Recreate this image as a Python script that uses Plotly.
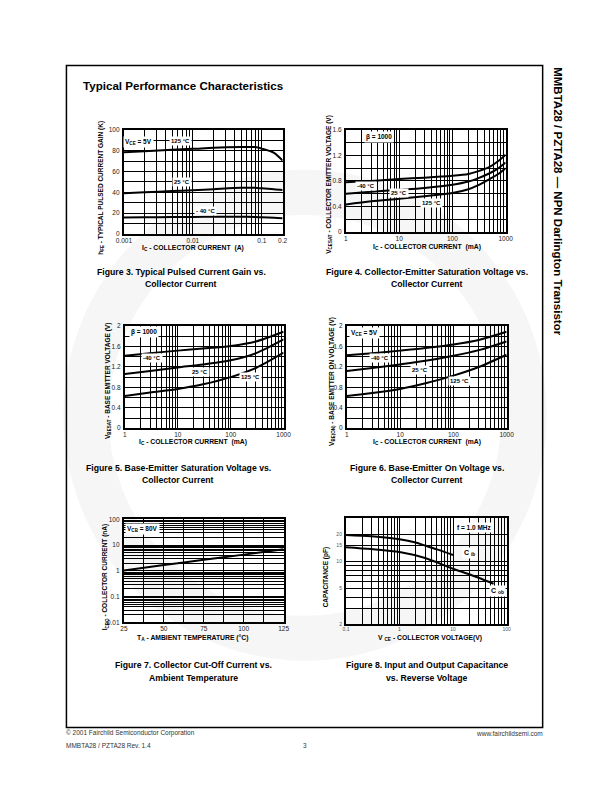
import plotly.graph_objects as go
import math

W, H = 612, 792
FONT = "Liberation Sans, Arial, sans-serif"

# ---------------- data ----------------
# Figure 3: hFE (K) vs Ic (A)
f3_ic = [0.001, 0.002, 0.005, 0.01, 0.02, 0.05, 0.08, 0.1, 0.15, 0.2]
f3_h125 = [78.5, 79.5, 81.0, 81.8, 82.8, 83.5, 83.5, 82.0, 78.0, 70.5]
f3_h25 = [39.0, 40.0, 41.2, 42.0, 43.0, 44.3, 44.3, 43.8, 43.0, 42.2]
f3_hm40 = [15.8, 16.0, 16.2, 16.4, 16.5, 16.5, 16.3, 16.0, 15.5, 15.0]

# Figure 4: VCE(sat) vs Ic (mA)
f4_ic = [1, 3, 10, 30, 100, 200, 300, 500, 700, 1000]
f4_m40 = [0.78, 0.80, 0.83, 0.85, 0.88, 0.91, 0.95, 1.02, 1.10, 1.21]
f4_25 = [0.60, 0.63, 0.66, 0.69, 0.74, 0.79, 0.84, 0.92, 0.99, 1.09]
f4_125 = [0.43, 0.48, 0.52, 0.56, 0.61, 0.67, 0.73, 0.83, 0.90, 1.00]

# Figure 5: VBE(sat) vs Ic (mA)
f5_ic = [1, 3, 10, 30, 100, 300, 1000]
f5_m40 = [1.42, 1.47, 1.52, 1.56, 1.61, 1.70, 1.89]
f5_25 = [1.06, 1.12, 1.19, 1.25, 1.33, 1.47, 1.74]
f5_125 = [0.63, 0.70, 0.77, 0.86, 1.00, 1.18, 1.48]

# Figure 6: VBE(on) vs Ic (mA)
f6_ic = [1, 3, 10, 30, 100, 300, 1000]
f6_m40 = [1.43, 1.47, 1.52, 1.57, 1.64, 1.73, 1.89]
f6_25 = [1.12, 1.18, 1.25, 1.32, 1.42, 1.53, 1.70]
f6_125 = [0.63, 0.69, 0.77, 0.88, 1.03, 1.20, 1.44]

# Figure 7: ICBO (nA) vs TA
f7_t = [25, 50, 75, 100, 125]
f7_icbo = [1.05, 1.7, 2.7, 4.3, 7.0]

# Figure 8: capacitance vs VCE
f8_vib = [0.1, 0.3, 1, 2, 3, 5, 10]
f8_cib = [19.7, 19.0, 17.6, 16.2, 15.0, 13.6, 11.8]
f8_vob = [0.1, 0.3, 1, 3, 10, 30, 57]
f8_cob = [14.4, 13.7, 12.7, 10.9, 8.3, 6.6, 5.65]

# tick labels
f3_xlabels = {0.001: "0.001", 0.01: "0.01", 0.1: "0.1", 0.2: "0.2"}
f3_ylabels = {0: "0", 20: "20", 40: "40", 60: "60", 80: "80", 100: "100"}
ma_xlabels = {1: "1", 10: "10", 100: "100", 1000: "1000"}
f4_ylabels = {0: "0", 0.4: "0.4", 0.8: "0.8", 1.2: "1.2", 1.6: "1.6"}
f56_ylabels = {0: "0", 0.4: "0.4", 0.8: "0.8", 1.2: "1.2", 1.6: "1.6", 2: "2"}
f7_xlabels = {25: "25", 50: "50", 75: "75", 100: "100", 125: "125"}
f7_ylabels = {0.01: "0.01", 0.1: "0.1", 1: "1", 10: "10", 100: "100"}
f8_xlabels = {0.1: "0.1", 1: "1", 10: "10", 100: "100"}
f8_ylabels = {2: "2", 5: "5", 10: "10", 15: "15", 20: "20"}


def log_grid(lo_exp, hi_exp, extra=()):
    vals = []
    for e in range(lo_exp, hi_exp):
        for m in range(1, 10):
            vals.append(round(m * 10 ** e, 10))
    vals.append(round(10 ** hi_exp, 10))
    vals.extend(extra)
    return vals


def lin_grid(lo, hi, step):
    n = int(round((hi - lo) / step))
    return [round(lo + i * step, 6) for i in range(n + 1)]


def ticktext(vals, labels):
    out = []
    for v in vals:
        t = ""
        for k, s in labels.items():
            if abs(v - k) < 1e-9 * max(1, abs(k)):
                t = s
        out.append(t)
    return out


def px_dom(a, b, total, flip=False):
    if flip:
        return [1 - b / total, 1 - a / total]
    return [a / total, b / total]


fig = go.Figure()

panels = [
    dict(box=(119, 282, 127, 232), xtype="log", ytype="linear",
         xr=[math.log10(0.001), math.log10(0.2)], yr=[0, 100],
         xg=log_grid(-3, -1, extra=[0.2]), yg=lin_grid(0, 100, 10),
         xl=f3_xlabels, yl=f3_ylabels, fs=6.5, tc="#222"),
    dict(box=(347, 511, 127, 230), xtype="log", ytype="linear",
         xr=[0, 3], yr=[0, 1.6], xg=log_grid(0, 3), yg=lin_grid(0, 1.6, 0.2),
         xl=ma_xlabels, yl=f4_ylabels, fs=6.5, tc="#222"),
    dict(box=(120, 283, 325, 428), xtype="log", ytype="linear",
         xr=[0, 3], yr=[0, 2], xg=log_grid(0, 3), yg=lin_grid(0, 2, 0.2),
         xl=ma_xlabels, yl=f56_ylabels, fs=6.5, tc="#222"),
    dict(box=(348, 512, 325, 428), xtype="log", ytype="linear",
         xr=[0, 3], yr=[0, 2], xg=log_grid(0, 3), yg=lin_grid(0, 2, 0.2),
         xl=ma_xlabels, yl=f56_ylabels, fs=6.5, tc="#222"),
    dict(box=(119, 283, 520, 624), xtype="linear", ytype="log",
         xr=[25, 125], yr=[-2, 2], xg=lin_grid(25, 125, 12.5), yg=log_grid(-2, 2),
         xl=f7_xlabels, yl=f7_ylabels, fs=6.5, tc="#222"),
    dict(box=(347, 512, 519, 626), xtype="log", ytype="log",
         xr=[-1, 2], yr=[math.log10(2), math.log10(30)], xg=log_grid(-1, 2),
         yg=[2, 3, 4, 5, 6, 7, 8, 9, 10, 15, 20],
         xl=f8_xlabels, yl=f8_ylabels, fs=5, tc="#555"),
]

layout_axes = {}
for i, p in enumerate(panels, start=1):
    x0, x1, y0, y1 = p["box"]
    xa = "xaxis" if i == 1 else f"xaxis{i}"
    ya = "yaxis" if i == 1 else f"yaxis{i}"
    common = dict(showline=True, linecolor="black", linewidth=2, mirror=True,
                  showgrid=True, gridcolor="black", gridwidth=1.1, zeroline=False,
                  ticks="", tickmode="array", fixedrange=True, tickangle=0,
                  tickfont=dict(family=FONT, size=p["fs"], color=p["tc"]))
    layout_axes[xa] = dict(common, domain=px_dom(x0, x1, W), type=p["xtype"], range=p["xr"],
                           tickvals=p["xg"], ticktext=ticktext(p["xg"], p["xl"]),
                           anchor=f"y{i}" if i > 1 else "y", ticklabelstandoff=-1)
    layout_axes[ya] = dict(common, domain=px_dom(y0, y1, H, flip=True), type=p["ytype"], range=p["yr"],
                           tickvals=p["yg"], ticktext=ticktext(p["yg"], p["yl"]),
                           anchor=f"x{i}" if i > 1 else "x", ticklabelstandoff=1)

curves = [
    (1, f3_ic, f3_h125), (1, f3_ic, f3_h25), (1, f3_ic, f3_hm40),
    (2, f4_ic, f4_m40), (2, f4_ic, f4_25), (2, f4_ic, f4_125),
    (3, f5_ic, f5_m40), (3, f5_ic, f5_25), (3, f5_ic, f5_125),
    (4, f6_ic, f6_m40), (4, f6_ic, f6_25), (4, f6_ic, f6_125),
    (5, f7_t, f7_icbo),
    (6, f8_vib, f8_cib), (6, f8_vob, f8_cob),
]
for idx, xs, ys in curves:
    fig.add_trace(go.Scatter(x=xs, y=ys, mode="lines",
                             line=dict(color="black", width=2, shape="spline", smoothing=0.8),
                             xaxis="x" if idx == 1 else f"x{idx}",
                             yaxis="y" if idx == 1 else f"y{idx}",
                             showlegend=False, hoverinfo="skip"))

ann = []


def lab(idx, x, y, text, size=6, bold=True, xlog=False, ylog=False):
    t = f"<b>{text}</b>" if bold else text
    ann.append(dict(xref="x" if idx == 1 else f"x{idx}", yref="y" if idx == 1 else f"y{idx}",
                    x=math.log10(x) if xlog else x, y=math.log10(y) if ylog else y,
                    text=t, showarrow=False, bgcolor="white", borderpad=1,
                    font=dict(family=FONT, size=size, color="black")))


# in-plot labels
lab(1, 0.00165, 88.5, "V<sub>CE</sub> = 5V", 6.5, xlog=True)
lab(1, 0.0066, 89.5, "125 °C", xlog=True)
lab(1, 0.0070, 49.5, "25 °C", xlog=True)
lab(1, 0.0153, 22, "- 40 °C", xlog=True)
lab(2, 4.2, 1.49, "β = 1000", 6.5, xlog=True)
lab(2, 2.4, 0.715, "-40 °C", xlog=True)
lab(2, 10.1, 0.606, "25 °C", xlog=True)
lab(2, 41, 0.455, "125 °C", xlog=True)
lab(3, 2.3, 1.88, "β = 1000", 6.5, xlog=True)
lab(3, 3.2, 1.37, "-40 °C", xlog=True)
lab(3, 26, 1.11, "25 °C", xlog=True)
lab(3, 232, 1.01, "125 °C", xlog=True)
lab(4, 2.1, 1.86, "V<sub>CE</sub> = 5V", 6.5, xlog=True)
lab(4, 4.2, 1.37, "-40 °C", xlog=True)
lab(4, 24, 1.15, "25 °C", xlog=True)
lab(4, 130, 0.92, "125 °C", xlog=True)
lab(5, 36.6, 41, "V<sub>CB</sub> = 80V", 6.5, ylog=True)
lab(6, 25, 23.9, "f = 1.0 MHz", 6.5, xlog=True, ylog=True)
lab(6, 20.4, 12.4, "C <sub>ib</sub>", 7, xlog=True, ylog=True)
lab(6, 68.6, 4.7, "C <sub>ob</sub>", 7, xlog=True, ylog=True)


def ptxt(x, y, text, size, bold=True, angle=0, xanchor="center", yanchor="middle", color="black"):
    t = f"<b>{text}</b>" if bold else text
    ann.append(dict(xref="paper", yref="paper", x=x / W, y=1 - y / H, text=t,
                    showarrow=False, textangle=angle, xanchor=xanchor, yanchor=yanchor,
                    font=dict(family=FONT, size=size, color=color)))


# axis titles
ptxt(190, 246, "I<sub>C</sub> - COLLECTOR CURRENT  (A)", 6.8)
ptxt(96, 185, "h<sub>FE</sub> - TYPICAL PULSED CURRENT GAIN (K)", 6.5, angle=-90)
ptxt(430, 245, "I<sub>C</sub> - COLLECTOR CURRENT  (mA)", 6.8)
ptxt(330, 182, "V<sub>CESAT</sub> - COLLECTOR EMITTER VOLTAGE (V)", 6.5, angle=-90)
ptxt(190, 442, "I<sub>C</sub> - COLLECTOR CURRENT  (mA)", 6.8)
ptxt(102, 380, "V<sub>BESAT</sub> - BASE EMITTER VOLTAGE (V)", 6.5, angle=-90)
ptxt(430, 442, "I<sub>C</sub> - COLLECTOR CURRENT  (mA)", 6.8)
ptxt(332, 381, "V<sub>BE(ON)</sub> - BASE EMITTER ON VOLTAGE (V)", 6.5, angle=-90)
ptxt(190, 640, "T<sub>A</sub> - AMBIENT TEMPERATURE (°C)", 6.8)
ptxt(100, 578, "I<sub>CBO</sub> - COLLECTOR CURRENT (nA)", 6.5, angle=-90)
ptxt(433, 640, "V <sub>CE</sub> - COLLECTOR VOLTAGE(V)", 6.8)
ptxt(326, 578, "CAPACITANCE (pF)", 6.5, angle=-90)

# captions
caps = [
    (178, 270, "Figure 3. Typical Pulsed Current Gain vs."), (178, 282, "Collector Current"),
    (430, 270, "Figure 4. Collector-Emitter Saturation Voltage vs."), (430, 282, "Collector Current"),
    (175, 468, "Figure 5. Base-Emitter Saturation Voltage vs."), (175, 480, "Collector Current"),
    (430, 468, "Figure 6. Base-Emitter On Voltage vs."), (430, 480, "Collector Current"),
    (190, 667, "Figure 7. Collector Cut-Off Current vs."), (190, 680, "Ambient Temperature"),
    (430, 667, "Figure 8. Input and Output Capacitance"), (430, 680, "vs. Reverse Voltage"),
]
for x, y, t in caps:
    ptxt(x, y, t, 8.7)

# page texts
ptxt(75, 82, "Typical Performance Characteristics", 11.6, xanchor="left")
ptxt(564, 62, "MMBTA28 / PZTA28 — NPN Darlington Transistor", 11.5, angle=90, yanchor="top")
ptxt(58, 736, "© 2001 Fairchild Semiconductor Corporation", 6.5, bold=False, xanchor="left", color="#333")
ptxt(551, 736, "www.fairchildsemi.com", 6.5, bold=False, xanchor="right", color="#333")
ptxt(58, 748, "MMBTA28 / PZTA28 Rev. 1.4", 6.5, bold=False, xanchor="left", color="#333")
ptxt(305, 748, "3", 6.5, bold=False, color="#333")

shapes = [
    dict(type="circle", xref="paper", yref="paper", layer="below",
         x0=(305 - 225) / W, x1=(305 + 225) / W, y0=1 - (415 + 225) / H, y1=1 - (415 - 225) / H,
         line=dict(color="#f6f6f6", width=45)),
    dict(type="rect", xref="paper", yref="paper", x0=60 / W, x1=549 / W, y0=1 - 730 / H, y1=1 - 62 / H,
         line=dict(color="black", width=1.5)),
]

fig.update_layout(width=W, height=H, margin=dict(l=0, r=0, t=0, b=0),
                  paper_bgcolor="white", plot_bgcolor="rgba(0,0,0,0)",
                  annotations=ann, shapes=shapes, showlegend=False, **layout_axes)

fig.write_html("out.html", config={"displayModeBar": False},
               post_script="document.body.style.margin='0';document.body.style.padding='0';")
